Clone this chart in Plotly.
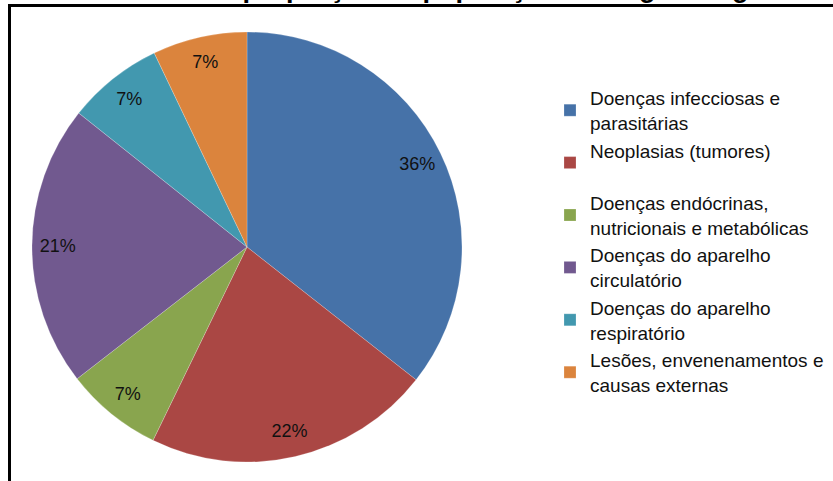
import plotly.graph_objects as go

# Categorias e percentuais
categorias = [
    "Doenças infecciosas e<br>parasitárias",
    "Neoplasias (tumores)<br> ",
    "Doenças endócrinas,<br>nutricionais e metabólicas",
    "Doenças do aparelho<br>circulatório",
    "Doenças do aparelho<br>respiratório",
    "Lesões, envenenamentos e<br>causas externas",
]
valores = [35.6, 21.6, 7.3, 21.2, 7.2, 7.1]
cores = ["#4672A8", "#AA4744", "#89A54E", "#71598F", "#4298AF", "#DB843D"]

# o título está quase todo fora do recorte; só as pernas das letras aparecem
titulo = "Óbitos em proporção da população de Angola segundo a causa"

W, H = 833, 481
cx, cy, r = 247, 247, 215  # centro e raio da pizza em pixels
dominio = dict(x=[(cx - r) / W, (cx + r) / W],
               y=[(H - cy - r) / H, (H - cy + r) / H])

fig = go.Figure()
# pizza com as cores
fig.add_trace(go.Pie(
    labels=categorias,
    values=valores,
    sort=False,
    direction="clockwise",
    rotation=0,
    marker=dict(colors=cores, line=dict(color="rgba(255,255,255,0.35)", width=0.6)),
    textinfo="none",
    domain=dominio,
    hoverinfo="label+percent",
))
# anel transparente só para colocar os rótulos perto da borda
fig.add_trace(go.Pie(
    labels=categorias,
    values=valores,
    sort=False,
    direction="clockwise",
    rotation=0,
    hole=0.76,
    marker=dict(colors=["rgba(0,0,0,0)"] * len(valores), line=dict(width=0)),
    texttemplate="%{percent:.0%}",
    textposition="inside",
    insidetextorientation="horizontal",
    textfont=dict(family="Liberation Sans", size=18, color="#111111"),
    domain=dominio,
    showlegend=False,
    hoverinfo="skip",
))

fig.update_layout(
    width=W, height=H,
    margin=dict(l=0, r=0, t=0, b=0, autoexpand=False),
    paper_bgcolor="white",
    showlegend=True,
    legend=dict(
        x=550 / W, y=1 - 79 / H, xanchor="left", yanchor="top",
        font=dict(family="Liberation Sans", size=19, color="#111111"),
        itemwidth=30, traceorder="normal",
    ),
    shapes=[
        dict(type="line", xref="paper", yref="paper", x0=8 / W, x1=1.0,
             y0=1 - 5.5 / H, y1=1 - 5.5 / H, line=dict(color="black", width=3)),
        dict(type="line", xref="paper", yref="paper", x0=9.5 / W, x1=9.5 / W,
             y0=0, y1=1 - 4 / H, line=dict(color="black", width=3)),
    ],
    annotations=[dict(
        text="<b>" + titulo + "</b>", xref="paper", yref="paper",
        x=101 / W, y=1 - 5 / H, xanchor="left", yanchor="bottom",
        showarrow=False, font=dict(family="Liberation Sans", size=27, color="black"),
    )],
)

# sem a margem padrão do <body>, para a figura começar no canto da janela
fig.write_html("out.html", config={"displayModeBar": False},
               post_script="document.body.style.margin='0';")
